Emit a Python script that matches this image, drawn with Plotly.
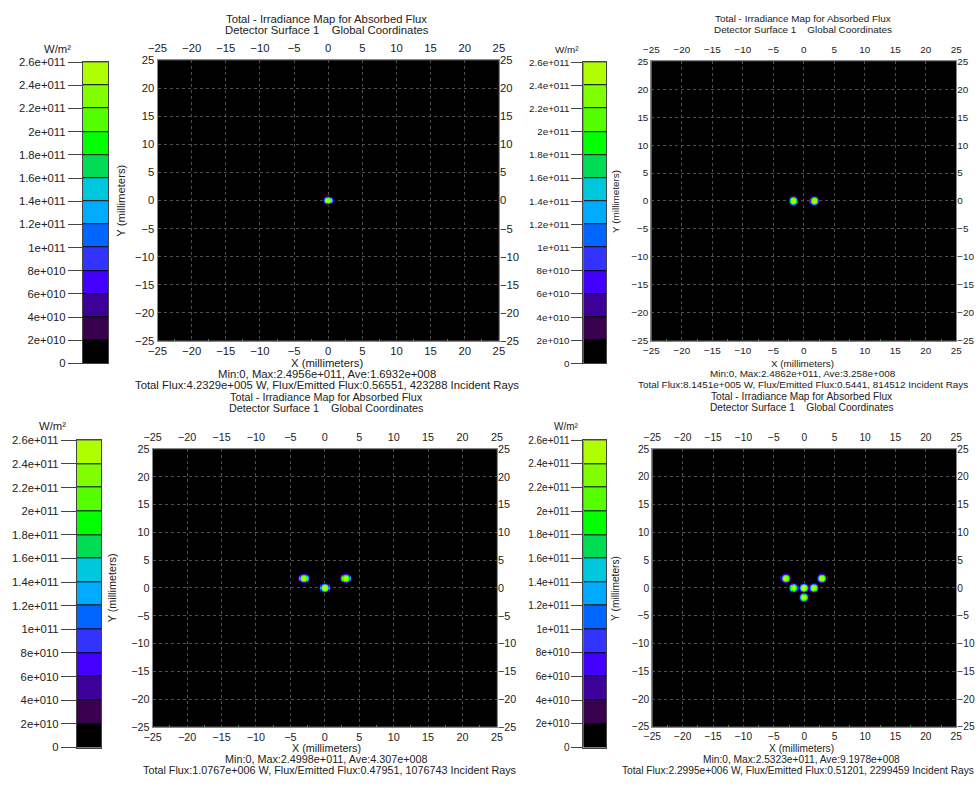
import numpy as np
import plotly.graph_objects as go

W, H = 979, 786

# ---------------- data ----------------
band_edges = [0, 2e10, 4e10, 6e10, 8e10, 1e11, 1.2e11, 1.4e11, 1.6e11, 1.8e11,
              2e11, 2.2e11, 2.4e11, 2.6e11]
band_colors = ["#000000", "#3a0050", "#3d0099", "#4400ff", "#3333ff", "#0066ff",
               "#00aaff", "#00c8dc", "#00dd55", "#00ff00", "#55ff00", "#80ff00",
               "#b0ff00"]
cbar_ticktext = ["0", "2e+010", "4e+010", "6e+010", "8e+010", "1e+011", "1.2e+011",
                 "1.4e+011", "1.6e+011", "1.8e+011", "2e+011", "2.2e+011",
                 "2.4e+011", "2.6e+011"]

# spot centres (mm) and peak irradiance (W/m^2) for each detector map
p1_spot_x = [0.0]
p1_spot_y = [0.0]
p1_peak = [2.4956e11]

p2_spot_x = [-1.7, 1.7]
p2_spot_y = [0.0, 0.0]
p2_peak = [2.4862e11, 2.46e11]

p3_spot_x = [-3.0, 0.0, 3.0]
p3_spot_y = [1.7, 0.0, 1.7]
p3_peak = [2.45e11, 2.4998e11, 2.45e11]

p4_spot_x = [-3.0, -1.7, 0.0, 1.6, 3.0, 0.0]
p4_spot_y = [1.7, 0.0, 0.0, 0.0, 1.7, -1.7]
p4_peak = [2.45e11, 2.47e11, 2.5323e11, 2.47e11, 2.45e11, 2.46e11]

spot_radius = 0.68  # mm, width of the spot profile

stats_lines = [
    ("Min:0, Max:2.4956e+011, Ave:1.6932e+008",
     "Total Flux:4.2329e+005 W, Flux/Emitted Flux:0.56551, 423288 Incident Rays"),
    ("Min:0, Max:2.4862e+011, Ave:3.258e+008",
     "Total Flux:8.1451e+005 W, Flux/Emitted Flux:0.5441, 814512 Incident Rays"),
    ("Min:0, Max:2.4998e+011, Ave:4.307e+008",
     "Total Flux:1.0767e+006 W, Flux/Emitted Flux:0.47951, 1076743 Incident Rays"),
    ("Min:0, Max:2.5323e+011, Ave:9.1978e+008",
     "Total Flux:2.2995e+006 W, Flux/Emitted Flux:0.51201, 2299459 Incident Rays"),
]
title1 = "Total - Irradiance Map for Absorbed Flux"
title2 = "Detector Surface 1    Global Coordinates"

# ---------------- layout geometry (pixels) ----------------
panels = [
    dict(plot=(150, 497, 55, 340), cbar=(74, 100, 57, 363), spots=(p1_spot_x, p1_spot_y, p1_peak),
         ylab_x=113, wm=(48, 44), fs=11.3, cfs=11.3, clen=14, tmid=322, smid=322,
         ttop=(13, 24), bot=(22.5, 33.5, 44.5)),
    dict(plot=(652, 962, 56, 340), cbar=(583, 606, 57, 363), spots=(p2_spot_x, p2_spot_y, p2_peak),
         ylab_x=616, wm=(566, 44), fs=9.9, cfs=9.8, clen=11, tmid=806, smid=806,
         ttop=(13, 24), bot=(23, 33.5, 44)),
    dict(plot=(145, 495, 450, 732), cbar=(68, 93, 441, 753), spots=(p3_spot_x, p3_spot_y, p3_peak),
         ylab_x=104, wm=(43, 427), fs=10.8, cfs=11.3, clen=15, tmid=322, smid=325,
         ttop=(397, 408), bot=(22, 33, 44)),
    dict(plot=(653, 962, 450, 732), cbar=(583, 606, 441, 753), spots=(p4_spot_x, p4_spot_y, p4_peak),
         ylab_x=616, wm=(566, 427), fs=10.2, cfs=10.0, clen=11, tmid=805, smid=801,
         ttop=(396.5, 407.5), bot=(22, 33, 44)),
]

colorscale = []
n = len(band_colors)
for i, c in enumerate(band_colors):
    colorscale.append([i / n, c])
    colorscale.append([(i + 1) / n, c])

FONT = "Liberation Sans, Arial, sans-serif"
TXT = "#222222"

def xd(a, b):
    return [a / W, b / W]

def yd(top, bot):
    return [1 - bot / H, 1 - top / H]

grid = np.round(np.arange(-8, 8.0001, 0.2), 2)
GX, GY = np.meshgrid(grid, grid)

fig = go.Figure()
layout = dict(
    width=W, height=H, margin=dict(l=0, r=0, t=0, b=0),
    paper_bgcolor="white", plot_bgcolor="black", showlegend=False,
    font=dict(family=FONT, size=11, color=TXT),
)
annotations = []

def ann(text, x, y, size=11, xanchor="center", yanchor="middle", angle=0):
    annotations.append(dict(text=text, x=x / W, y=1 - y / H, xref="paper", yref="paper",
                            showarrow=False, xanchor=xanchor, yanchor=yanchor,
                            textangle=angle, font=dict(size=size, family=FONT, color=TXT)))

for k, p in enumerate(panels):
    x0, x1, y0, y1 = p["plot"]
    cx0, cx1, cy0, cy1 = p["cbar"]
    sx, sy, pk = p["spots"]
    fs = p["fs"]
    i_main = 4 * k + 1
    i_top = 4 * k + 2
    i_right = 4 * k + 3
    i_cb = 4 * k + 4
    xm, ym = f"x{i_main}", f"y{i_main}"
    xt, yr = f"x{i_top}", f"y{i_right}"
    xc, yc = f"x{i_cb}", f"y{i_cb}"

    ax_common = dict(range=[-25, 25], tickmode="linear", tick0=0, dtick=5, zeroline=False,
                     tickfont=dict(size=fs, family=FONT, color=TXT), fixedrange=True)

    # irradiance field built from the spot list
    Z = np.zeros_like(GX)
    for a, b, v in zip(sx, sy, pk):
        r = np.hypot(GX - a, GY - b) / spot_radius
        Z = Z + v * np.exp(-r ** 4)
    Z = np.where(Z < 1.5e10, np.nan, Z)

    fig.add_trace(go.Heatmap(x=grid, y=grid, z=Z, colorscale=colorscale, zmin=0,
                             zmax=band_edges[-1], showscale=False, hoverinfo="skip",
                             xaxis=xm, yaxis=ym))
    # empty traces so that the mirrored top / right scales are drawn
    fig.add_trace(go.Scatter(x=[None], y=[None], mode="markers", hoverinfo="skip",
                             xaxis=xt, yaxis=ym))
    fig.add_trace(go.Scatter(x=[None], y=[None], mode="markers", hoverinfo="skip",
                             xaxis=xm, yaxis=yr))

    # colour bar as its own small heatmap
    centers = [(band_edges[i] + band_edges[i + 1]) / 2 for i in range(n)]
    fig.add_trace(go.Heatmap(x=[0], y=centers, z=[[c] for c in centers], colorscale=colorscale,
                             zmin=0, zmax=band_edges[-1], showscale=False, ygap=1,
                             hoverinfo="skip", xaxis=xc, yaxis=yc))

    layout[f"xaxis{i_main}"] = dict(ax_common, ticks="", domain=xd(x0, x1), anchor=ym,
                                    side="bottom", showgrid=True, gridcolor="#505050",
                                    griddash="dot", gridwidth=1, showline=True,
                                    linecolor="#888888", mirror=True, layer="above traces",
                                    minor=dict(ticks="inside", ticklen=2, tickcolor="#2a9a2a",
                                               dtick=2.5, showgrid=False))
    layout[f"yaxis{i_main}"] = dict(ax_common, ticks="", domain=yd(y0, y1), anchor=xm,
                                    side="left", showgrid=True, gridcolor="#505050",
                                    griddash="dot", gridwidth=1, showline=True,
                                    linecolor="#888888", mirror=True, layer="above traces")
    layout[f"xaxis{i_top}"] = dict(ax_common, ticks="outside", ticklen=3,
                                   tickcolor="rgba(0,0,0,0)", domain=xd(x0, x1), anchor=ym,
                                   side="top", overlaying=xm, showgrid=False)
    layout[f"yaxis{i_right}"] = dict(ax_common, ticks="", domain=yd(y0, y1), anchor=xm,
                                     side="right", overlaying=ym, showgrid=False)
    layout[f"xaxis{i_cb}"] = dict(domain=xd(cx0, cx1), anchor=yc, range=[-0.5, 0.5],
                                  showticklabels=False, showgrid=False, zeroline=False,
                                  showline=True, linecolor="#444444", mirror=True,
                                  ticks="", fixedrange=True)
    layout[f"yaxis{i_cb}"] = dict(domain=yd(cy0, cy1), anchor=xc, range=[0, band_edges[-1]],
                                  tickmode="array", tickvals=band_edges, ticktext=cbar_ticktext,
                                  ticks="outside", ticklen=p["clen"], tickcolor="#444444",
                                  showgrid=False, zeroline=False, showline=True,
                                  linecolor="#444444", mirror=True, fixedrange=True,
                                  tickfont=dict(size=p["cfs"], family=FONT, color=TXT))

    tmid, smid = p["tmid"], p["smid"]
    t1, t2 = p["ttop"]
    b1, b2, b3 = p["bot"]
    ann(title1, tmid, t1, size=fs)
    ann(title2, tmid, t2, size=fs)
    ann("X (millimeters)", tmid, y1 + b1, size=fs)
    ann(stats_lines[k][0], tmid, y1 + b2, size=fs)
    ann(stats_lines[k][1], smid, y1 + b3, size=fs)
    ann("Y (millimeters)", p["ylab_x"], (y0 + y1) / 2, size=fs, angle=-90)
    ann("W/m²", p["wm"][0], p["wm"][1], size=p["cfs"])

layout["annotations"] = annotations
fig.update_layout(**layout)
fig.write_html("out.html", config={"displayModeBar": False},
               post_script="document.body.style.margin='0';document.body.style.overflow='hidden';")
